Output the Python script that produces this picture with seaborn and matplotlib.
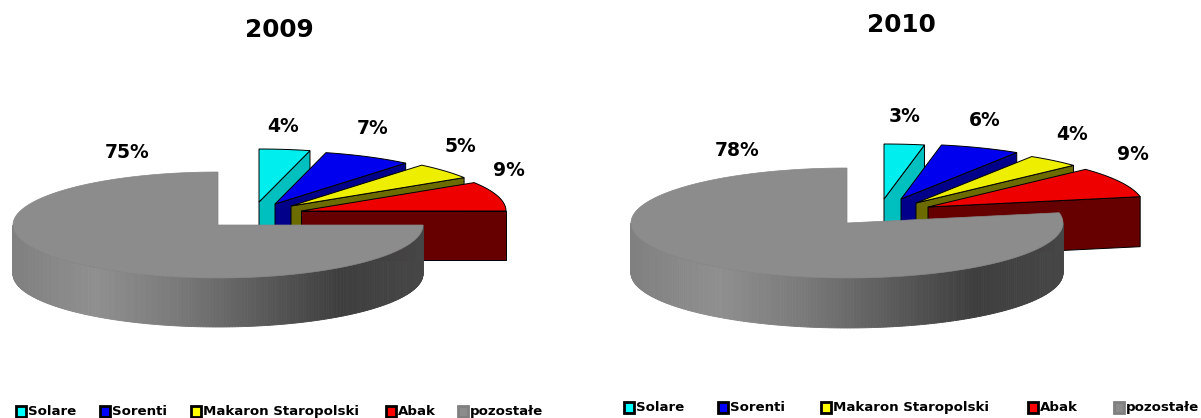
import numpy as np
import matplotlib.pyplot as plt
from matplotlib.patches import Rectangle
import seaborn as sns

# data
categories = ["Solare", "Sorenti", "Makaron Staropolski", "Abak", "pozostałe"]
years = ["2009", "2010"]
shares_2009 = [4, 7, 5, 9, 75]
shares_2010 = [3, 6, 4, 9, 78]

top_colors = ["#00eeee", "#0000ee", "#eeee00", "#ee0000", "#8c8c8c"]
wall_colors = ["#00bfbf", "#00008b", "#6b6b00", "#660000"]
legend_colors = ["#00ffff", "#0000ff", "#ffff00", "#ff0000", "#8c8c8c"]
wall_grays = ["#808080", "#8f8f8f", "#7a7a7a", "#5c5c5c", "#3e3e3e", "#464646"]

# layout in pixels: pie centre, radii, depth, apex of each small slice
layout_2009 = dict(cx=218, cy=225, rx=205, ry=53, depth=49,
                   apex=[(259, 202), (275, 204), (291, 206), (301, 211)],
                   labels=[(283, 127), (373, 129), (460, 147), (509, 170), (127, 152)],
                   title=(279, 30), legend_y=411,
                   boxes=[15, 99, 190, 385, 457])
layout_2010 = dict(cx=847, cy=223, rx=216, ry=55, depth=50,
                   apex=[(884, 199), (901, 199), (916, 203), (928, 207)],
                   labels=[(905, 116), (985, 120), (1072, 135), (1133, 154), (737, 151)],
                   title=(901, 25), legend_y=407,
                   boxes=[623, 717, 820, 1027, 1113])

sns.set_theme(style="white")
plt.rcParams['font.family'] = ['DejaVu Sans']

fig = plt.figure(figsize=(12.01, 4.18), dpi=100)
ax = fig.add_axes([0, 0, 1, 1])
ax.set_xlim(0, 1201)
ax.set_ylim(418, 0)
ax.axis("off")


def arc(cx, cy, rx, ry, a, b, n=80):
    t = np.radians(np.linspace(a, b, n))
    return cx + rx * np.sin(t), cy - ry * np.cos(t)


def draw_pie(shares, year, g):
    angles = np.cumsum([0] + shares) * 3.6
    rx, ry, d = g["rx"], g["ry"], g["depth"]

    # small slices, back to front
    for i in range(4):
        ax_, ay_ = g["apex"][i]
        a, b = angles[i], angles[i + 1]
        xs, ys = arc(ax_, ay_, rx, ry, a, b)
        ex, ey = xs[-1], ys[-1]
        ax.fill([ax_, ex, ex, ax_], [ay_, ey, ey + d, ay_ + d],
                color=wall_colors[i], ec="black", lw=0.7)
        ax.fill(np.r_[ax_, xs], np.r_[ay_, ys],
                color=top_colors[i], ec="black", lw=0.7)

    # grey slice wall, shaded along x
    cx, cy = g["cx"], g["cy"]
    n = 220
    shades = sns.blend_palette(wall_grays, n_colors=n)
    edges = np.linspace(90, 270, n + 1)[::-1]
    for j in range(n):
        xs, ys = arc(cx, cy, rx, ry, edges[j], edges[j + 1], 6)
        frac = (xs.mean() - (cx - rx)) / (2 * rx)
        shade = shades[min(int(frac * n), n - 1)]
        ax.fill(np.r_[xs, xs[::-1]], np.r_[ys, ys[::-1] + d],
                color=shade, ec=shade, lw=0.6)

    xs, ys = arc(cx, cy, rx, ry, angles[4], 360, 240)
    ax.fill(np.r_[cx, xs], np.r_[cy, ys], color=top_colors[4], ec="#858585", lw=0.5)

    for (x, y), v in zip(g["labels"], shares):
        ax.text(x, y, f"{v}%", ha="center", va="center", fontsize=13.5,
                fontweight="bold", color="black")
    ax.text(g["title"][0], g["title"][1], year, ha="center", va="center",
            fontsize=17.8, fontweight="bold", color="black")

    # legend
    for x, name, c in zip(g["boxes"], categories, legend_colors):
        edge = "black" if name != "pozostałe" else "#808080"
        ax.add_patch(Rectangle((x + 0.5, g["legend_y"] - 5), 10.5, 10.5, fc=c, ec=edge, lw=2))
        ax.text(x + 13, g["legend_y"] + 0.5, name, ha="left", va="center",
                fontsize=9.6, fontweight="bold", color="black")


draw_pie(shares_2009, years[0], layout_2009)
draw_pie(shares_2010, years[1], layout_2010)

fig.savefig("out.png", dpi=100, facecolor="white")
